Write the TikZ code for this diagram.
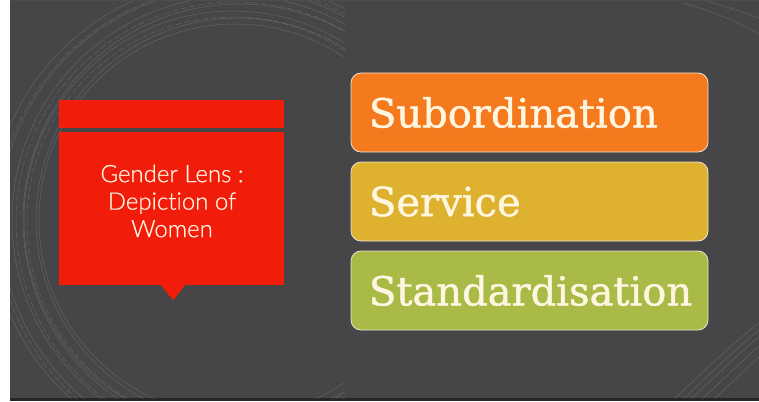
\documentclass[tikz,border=0pt]{standalone}
\usepackage{fontspec}
\usepackage{tikz}

\newfontfamily\lensfont[FakeBold=0.6,Ligatures=NoCommon]{Lato Light}
\newfontfamily\slabfont[FakeBold=1.2]{DejaVu Serif}

\definecolor{slidegray}{HTML}{464547}
\definecolor{lensred}{HTML}{F21C0B}
\definecolor{suborange}{HTML}{F57A1E}
\definecolor{servgold}{HTML}{DEB22E}
\definecolor{stdgreen}{HTML}{AABA46}
\definecolor{cream}{HTML}{FFF6E2}

\tikzset{
	item/.style={draw=cream!85!gray, line width=0.8pt, rounded corners=10pt,
		minimum height=79pt, text width=321pt, inner xsep=18pt, align=left,
		text=cream, font=\slabfont\fontsize{40}{44}\selectfont},
	lensbox/.style={fill=lensred, minimum width=225pt, inner sep=0pt},
	swirl/.style={white, opacity=0.16, line width=0.5pt}
}

\begin{document}
\begin{tikzpicture}[x=1pt,y=-1pt]
	\useasboundingbox (0,0) rectangle (759,401);
	
	% Slide background and its edges
	\fill[white] (0,0) rectangle (10,401);
	\fill[slidegray] (10,0) rectangle (759,398);
	\fill[black!85] (10,398) rectangle (759,401);
	\fill[black!70] (10,0) rectangle (759,1.2);
	
	% Faint swirls on the left
	\begin{scope}
		\clip (10,1.2) rectangle (345,398);
		\foreach \r/\dx in {196/0,202/3,209/-2,216/4,224/1,232/-3,240/-4}
			\draw[swirl] (235+\dx,220) circle[radius=\r];
		\foreach \r/\dx in {205/-6,220/-2,236/-5}
			\draw[swirl, dash pattern=on 6pt off 3pt] (238+\dx,222) circle[radius=\r];
	\end{scope}
	% and in the right corners
	\begin{scope}
		\clip (10,1.2) rectangle (759,398);
		\foreach \s in {0,9,17,28,40}
			\draw[swirl] (672+\s,401) .. controls (700+\s,375) and (730+\s,345) .. (765+\s,318);
		\draw[swirl] (682,3) .. controls (710,10) and (738,22) .. (759,34);
		\draw[swirl] (702,0) .. controls (725,6) and (742,12) .. (759,18);
	\end{scope}
	
	% Red call-out on the left
	\node[lensbox, minimum height=28pt] (lensbar) at (171,114) {};
	\node[lensbox, minimum height=153pt] (lens) at (171,208.5) {};
	\fill[lensred] ([xshift=-10pt]lens.south) -- ([xshift=14pt]lens.south)
		-- ([xshift=2pt,yshift=-15pt]lens.south) -- cycle;
	\node[text=cream, align=center, font=\lensfont\fontsize{24}{27.5}\selectfont]
		(lenstext) at (172,201) {Gender Lens :\\Depiction of\\Women};
	
	% Three coloured boxes on the right
	\node[item, fill=suborange] (sub) at (529.5,112.5) {Subordination};
	\node[item, fill=servgold] (serv) at (529.5,201.5) {Service};
	\node[item, fill=stdgreen] (std) at (529.5,290.5) {Standardisation};
\end{tikzpicture}
\end{document}
